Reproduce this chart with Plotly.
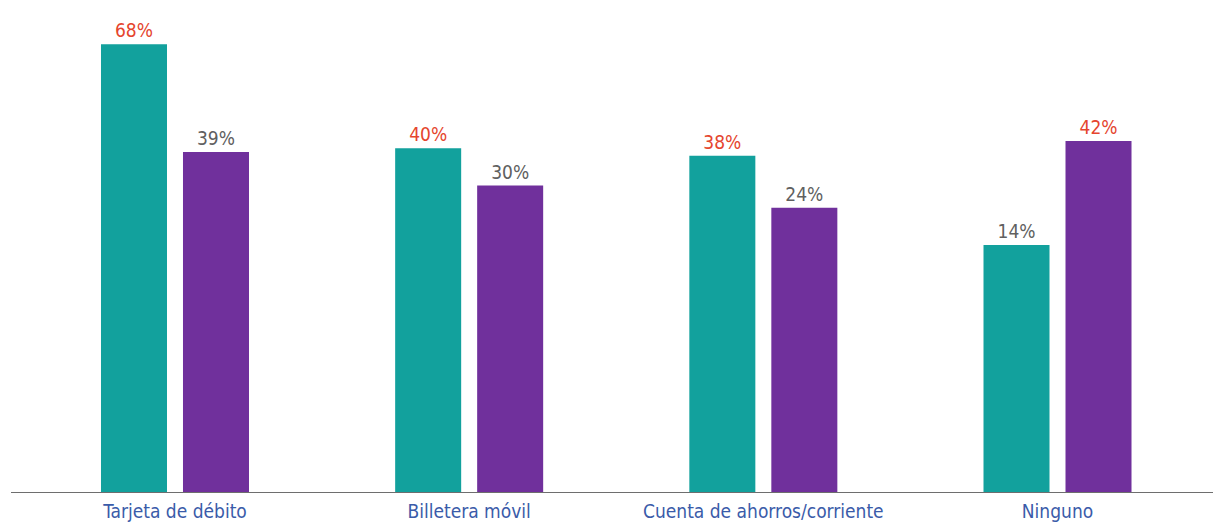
import plotly.graph_objects as go

# Medios de pago: dos grupos por categoría
categories = ["Tarjeta de débito", "Billetera móvil", "Cuenta de ahorros/corriente", "Ninguno"]
serie_a = [68, 40, 38, 14]
serie_b = [39, 30, 24, 42]

# Valor en el que arrancan las barras (eje desplazado)
FLOOR = -52.7
Y_TOP = 79.9

TEAL = "#12A19D"
PURPLE = "#70309C"
RED = "#E5452E"
GREY = "#606060"
BLUE = "#3A5BA9"
FONT = "DejaVu Sans Condensed, Roboto, sans-serif"


def label_colors(own, other):
    # El mayor de cada par va en rojo, el menor en gris
    return [RED if a > b else GREY for a, b in zip(own, other)]


def bar(values, other, color, name):
    return go.Bar(
        x=categories,
        y=[v - FLOOR for v in values],
        base=FLOOR,
        name=name,
        marker=dict(color=color, line=dict(width=0)),
        text=[f"{v}%" for v in values],
        textposition="outside",
        textfont=dict(family=FONT, size=19, color=label_colors(values, other)),
        cliponaxis=False,
        hoverinfo="skip",
    )


fig = go.Figure([
    bar(serie_a, serie_b, TEAL, "A"),
    bar(serie_b, serie_a, PURPLE, "B"),
])

fig.update_layout(
    width=1213,
    height=525,
    margin=dict(l=11, r=0, t=0, b=32),
    paper_bgcolor="white",
    plot_bgcolor="white",
    barmode="group",
    bargap=0.4425,
    bargroupgap=0.195,
    showlegend=False,
    font=dict(family=FONT),
    xaxis=dict(
        range=[-0.5575, 3.5286],
        showgrid=False,
        showline=False,
        zeroline=False,
        ticks="",
        ticklabelstandoff=5,
        tickfont=dict(family=FONT, size=19, color=BLUE),
    ),
    yaxis=dict(
        range=[FLOOR, Y_TOP],
        visible=False,
        fixedrange=True,
    ),
    shapes=[
        dict(
            type="line", xref="paper", yref="y",
            x0=0, x1=1, y0=FLOOR, y1=FLOOR,
            line=dict(color="#6E6E6E", width=2),
        )
    ],
)

fig.write_html("out.html")
